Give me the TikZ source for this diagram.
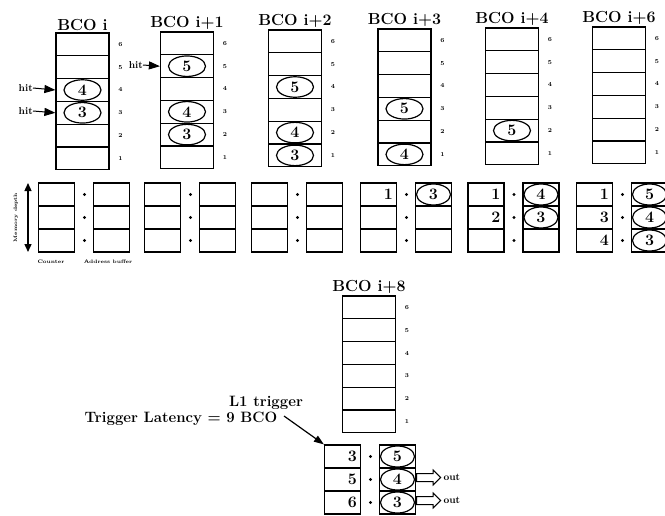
\documentclass[tikz,border=0pt]{standalone}
\usetikzlibrary{arrows.meta,positioning,shapes.geometric,shapes.arrows}
\tikzset{
  cellbox/.style={
    draw,
    line width=1.2pt,
    minimum width=53pt,
    minimum height=22.8pt,
    inner sep=0pt
  },
  membox/.style={
    draw,
    line width=1.2pt,
    minimum width=36pt,
    minimum height=23pt,
    inner sep=0pt
  },
  hitmark/.style={
    ellipse,
    draw,
    line width=1.2pt,
    minimum width=37pt,
    minimum height=20.5pt,
    inner sep=0pt,
    font=\fontsize{16}{16}\selectfont\bfseries
  },
  memmark/.style={hitmark, minimum width=34pt, minimum height=21pt},
  memnum/.style={anchor=east, inner sep=0pt, font=\fontsize{16}{16}\selectfont\bfseries},
  bcotitle/.style={anchor=south, inner sep=1pt, font=\fontsize{16}{16}\selectfont\bfseries},
  rowidx/.style={inner sep=0pt, font=\fontsize{6}{6}\selectfont\bfseries},
  dotmark/.style={circle, fill=black, minimum size=3.2pt, inner sep=0pt},
  smalltext/.style={inner sep=0pt, font=\fontsize{10}{10}\selectfont\bfseries},
  tinytext/.style={inner sep=0pt, font=\fontsize{5}{5}\selectfont\bfseries},
  labeltext/.style={inner sep=0pt, font=\fontsize{15}{15}\selectfont\bfseries},
  hitarrow/.style={line width=1pt, -{Triangle[length=11pt,width=8pt]}},
  outarrow/.style={
    single arrow,
    draw,
    fill=white,
    line width=1pt,
    inner sep=3.5pt,
    single arrow head extend=3.5pt,
    minimum height=24pt,
    anchor=tail
  }
}
% #1 name, #2 x centre, #3 y top, #4 title
\newcommand{\bcostack}[4]{%
  \node[bcotitle] (#1-t) at (#2,#3-1) {#4};
  \foreach \r in {1,...,6}{
    \node[cellbox] (#1-\r) at (#2,{#3+11.4+22.8*(6-\r)}) {};
    \node[rowidx] (#1-n\r) at (#2+38,{#3+11.4+22.8*(6-\r)}) {\r};
  }
}
% #1 name, #2 x centre of left box, #3 y top
\newcommand{\mempair}[3]{%
  \foreach \r in {1,2,3}{
    \node[membox] (#1a\r) at (#2,{#3+11.5+23*(\r-1)}) {};
    \node[membox] (#1b\r) at (#2+55,{#3+11.5+23*(\r-1)}) {};
    \node[dotmark] (#1d\r) at (#2+28,{#3+11.5+23*(\r-1)}) {};
  }
}

\begin{document}
\begin{tikzpicture}[x=1pt,y=-1pt]
  \useasboundingbox (0,0) rectangle (665,515);

  % pipeline columns
  \bcostack{bcoA}{82.5}{33}{BCO i}
  \bcostack{bcoB}{187}{32}{BCO i+1}
  \bcostack{bcoC}{295}{30}{BCO i+2}
  \bcostack{bcoD}{404.5}{29}{BCO i+3}
  \bcostack{bcoE}{512}{28}{BCO i+4}
  \bcostack{bcoF}{619}{27}{BCO i+6}
  \bcostack{bcoG}{369}{296}{BCO i+8}

  \node[hitmark] (eA4) at (bcoA-4) {4};
  \node[hitmark] (eA3) at (bcoA-3) {3};
  \node[hitmark] (eB5) at (bcoB-5) {5};
  \node[hitmark] (eB3) at (bcoB-3) {4};
  \node[hitmark] (eB2) at (bcoB-2) {3};
  \node[hitmark] (eC4) at (bcoC-4) {5};
  \node[hitmark] (eC2) at (bcoC-2) {4};
  \node[hitmark] (eC1) at (bcoC-1) {3};
  \node[hitmark] (eD3) at (bcoD-3) {5};
  \node[hitmark] (eD1) at (bcoD-1) {4};
  \node[hitmark] (eE2) at (bcoE-2) {5};

  % hits
  \node[smalltext, anchor=east] (hitA4) at (33,88) {hit};
  \node[smalltext, anchor=east] (hitA3) at (33,111) {hit};
  \node[smalltext, anchor=east] (hitB5) at (143,65) {hit};
  \draw[hitarrow] (hitA4.east) -- (bcoA-4.west);
  \draw[hitarrow] (hitA3.east) -- (bcoA-3.west);
  \draw[hitarrow] (hitB5.east) -- (bcoB-5.west);

  % counters and address buffers
  \mempair{memA}{56.5}{183}
  \mempair{memB}{162.5}{183}
  \mempair{memC}{269.5}{183}
  \mempair{memD}{378.5}{183}
  \mempair{memE}{486}{183}
  \mempair{memF}{594.5}{183}
  \mempair{memG}{342.5}{445}

  \node[memnum] (nD1) at ([xshift=-4pt]memDa1.east) {1};
  \node[memmark] (mD1) at (memDb1) {3};
  \node[memnum] (nE1) at ([xshift=-4pt]memEa1.east) {1};
  \node[memnum] (nE2) at ([xshift=-4pt]memEa2.east) {2};
  \node[memmark] (mE1) at (memEb1) {4};
  \node[memmark] (mE2) at (memEb2) {3};
  \node[memnum] (nF1) at ([xshift=-4pt]memFa1.east) {1};
  \node[memnum] (nF2) at ([xshift=-4pt]memFa2.east) {3};
  \node[memnum] (nF3) at ([xshift=-4pt]memFa3.east) {4};
  \node[memmark] (mF1) at (memFb1) {5};
  \node[memmark] (mF2) at (memFb2) {4};
  \node[memmark] (mF3) at (memFb3) {3};
  \node[memnum] (nG1) at ([xshift=-4pt]memGa1.east) {3};
  \node[memnum] (nG2) at ([xshift=-4pt]memGa2.east) {5};
  \node[memnum] (nG3) at ([xshift=-4pt]memGa3.east) {6};
  \node[memmark] (mG1) at (memGb1) {5};
  \node[memmark] (mG2) at (memGb2) {4};
  \node[memmark] (mG3) at (memGb3) {3};

  % memory depth
  \coordinate (mdtop) at (28,183);
  \coordinate (mdbot) at (28,252);
  \draw[line width=1.4pt, {Triangle[length=8pt,width=7pt]}-{Triangle[length=8pt,width=7pt]}] (mdtop) -- (mdbot);
  \node[tinytext, rotate=90] (mdlbl) at (16,217.5) {Memory depth};
  \node[tinytext] (cntlbl) at (51,262) {Counter};
  \node[tinytext] (adrlbl) at (108,262) {Address buffer};

  % trigger
  \node[labeltext] (l1lbl) at (266,403) {L1 trigger};
  \node[labeltext] (latlbl) at (181,419) {Trigger Latency = 9 BCO};
  \coordinate (l1tail) at (284,416);
  \draw[line width=1.2pt, -{Triangle[length=10pt,width=7pt]}] (l1tail) -- (memGa1.north west);

  % readout
  \node[outarrow, yshift=2pt] (out2) at (memGb2.east) {};
  \node[outarrow, yshift=2pt] (out3) at (memGb3.east) {};
  \node[smalltext, right=2pt of out2] (outlbl2) {out};
  \node[smalltext, right=2pt of out3] (outlbl3) {out};
\end{tikzpicture}
\end{document}
